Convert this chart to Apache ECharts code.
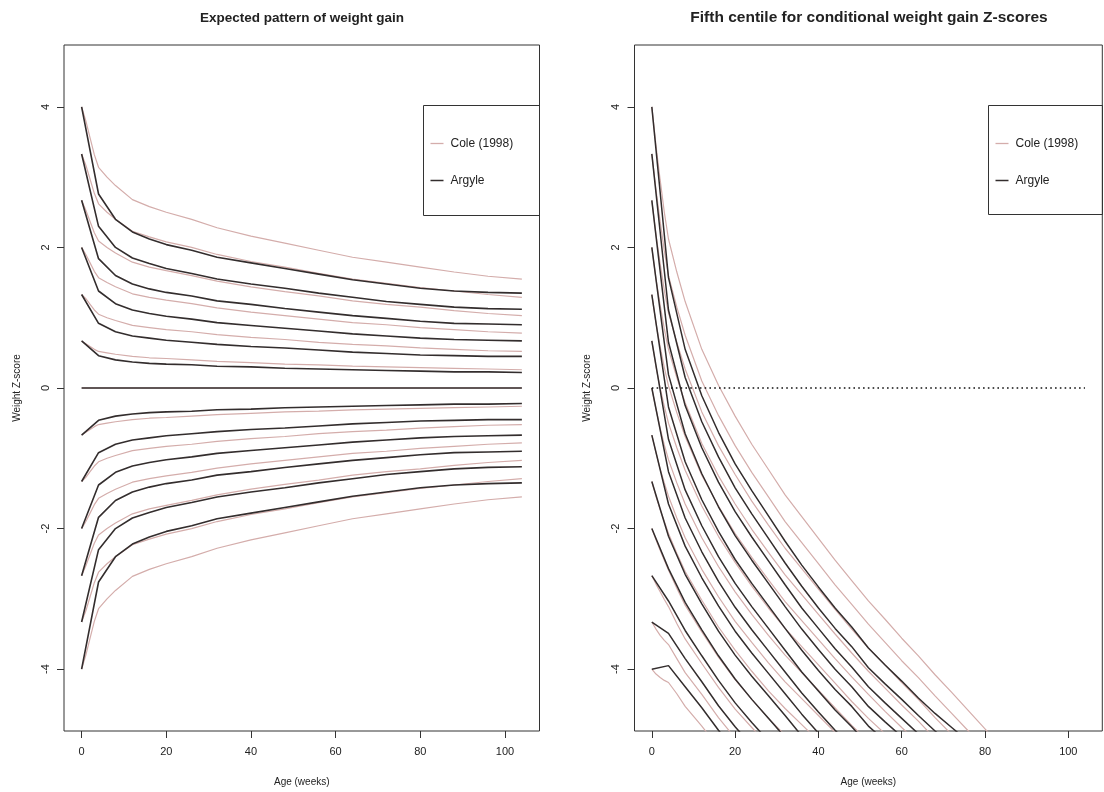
<!DOCTYPE html>
<html><head><meta charset="utf-8">
<script src="https://cdn.jsdelivr.net/npm/echarts@6/dist/echarts.min.js"></script>
<style>html,body{margin:0;padding:0;background:#fff}#c{width:1104px;height:792px}</style>
</head><body><div id="c"></div>
<script>
// ---------- data ----------
const titles = ['Expected pattern of weight gain', 'Fifth centile for conditional weight gain Z-scores'];
const xTicks = [0, 20, 40, 60, 80, 100];
const yTicks = [-4, -2, 0, 2, 4];
const legendNames = ['Cole (1998)', 'Argyle'];

// Left panel: expected pattern (Argyle, 4-weekly points)
const expArgyleWeeks = [0,4,8,12,16,20,26,32,40,48,56,64,72,80,88,96,104];
const expArgyle = [
  [4, 2.76, 2.4, 2.22, 2.12, 2.04, 1.96, 1.86, 1.78, 1.7, 1.62, 1.54, 1.48, 1.42, 1.38, 1.36, 1.35],
  [3.33, 2.3, 2, 1.85, 1.77, 1.7, 1.63, 1.55, 1.48, 1.42, 1.35, 1.29, 1.23, 1.19, 1.15, 1.13, 1.12],
  [2.67, 1.84, 1.6, 1.48, 1.41, 1.36, 1.31, 1.24, 1.19, 1.13, 1.08, 1.03, 0.99, 0.95, 0.92, 0.91, 0.9],
  [2, 1.38, 1.2, 1.11, 1.06, 1.02, 0.98, 0.93, 0.89, 0.85, 0.81, 0.77, 0.74, 0.71, 0.69, 0.68, 0.67],
  [1.33, 0.92, 0.8, 0.74, 0.71, 0.68, 0.65, 0.62, 0.59, 0.57, 0.54, 0.51, 0.49, 0.47, 0.46, 0.45, 0.45],
  [0.67, 0.46, 0.4, 0.37, 0.35, 0.34, 0.33, 0.31, 0.3, 0.28, 0.27, 0.26, 0.25, 0.24, 0.23, 0.23, 0.22],
  [0, 0, 0, 0, 0, 0, 0, 0, 0, 0, 0, 0, 0, 0, 0, 0, 0],
  [-0.67, -0.46, -0.4, -0.37, -0.35, -0.34, -0.33, -0.31, -0.3, -0.28, -0.27, -0.26, -0.25, -0.24, -0.23, -0.23, -0.22],
  [-1.33, -0.92, -0.8, -0.74, -0.71, -0.68, -0.65, -0.62, -0.59, -0.57, -0.54, -0.51, -0.49, -0.47, -0.46, -0.45, -0.45],
  [-2, -1.38, -1.2, -1.11, -1.06, -1.02, -0.98, -0.93, -0.89, -0.85, -0.81, -0.77, -0.74, -0.71, -0.69, -0.68, -0.67],
  [-2.67, -1.84, -1.6, -1.48, -1.41, -1.36, -1.31, -1.24, -1.19, -1.13, -1.08, -1.03, -0.99, -0.95, -0.92, -0.91, -0.9],
  [-3.33, -2.3, -2, -1.85, -1.77, -1.7, -1.63, -1.55, -1.48, -1.42, -1.35, -1.29, -1.23, -1.19, -1.15, -1.13, -1.12],
  [-4, -2.76, -2.4, -2.22, -2.12, -2.04, -1.96, -1.86, -1.78, -1.7, -1.62, -1.54, -1.48, -1.42, -1.38, -1.36, -1.35]
];

// Left panel: expected pattern (Cole 1998)
const expColeWeeks = [0,1,2,3,4,6,8,12,16,20,26,32,40,48,56,64,72,80,88,96,104];
const expCole = [
  [4, 3.8, 3.56, 3.32, 3.14, 3, 2.88, 2.68, 2.58, 2.5, 2.4, 2.28, 2.16, 2.06, 1.96, 1.86, 1.79, 1.72, 1.65, 1.59, 1.55],
  [3.33, 3.17, 2.97, 2.77, 2.62, 2.5, 2.4, 2.23, 2.15, 2.08, 2, 1.9, 1.8, 1.72, 1.63, 1.55, 1.49, 1.43, 1.38, 1.33, 1.29],
  [2.67, 2.53, 2.37, 2.21, 2.09, 2, 1.92, 1.79, 1.72, 1.67, 1.6, 1.52, 1.44, 1.37, 1.31, 1.24, 1.19, 1.15, 1.1, 1.06, 1.03],
  [2, 1.9, 1.78, 1.66, 1.57, 1.5, 1.44, 1.34, 1.29, 1.25, 1.2, 1.14, 1.08, 1.03, 0.98, 0.93, 0.9, 0.86, 0.83, 0.8, 0.78],
  [1.33, 1.27, 1.19, 1.11, 1.05, 1, 0.96, 0.89, 0.86, 0.83, 0.8, 0.76, 0.72, 0.69, 0.65, 0.62, 0.6, 0.57, 0.55, 0.53, 0.52],
  [0.67, 0.63, 0.59, 0.55, 0.52, 0.5, 0.48, 0.45, 0.43, 0.42, 0.4, 0.38, 0.36, 0.34, 0.33, 0.31, 0.3, 0.29, 0.28, 0.27, 0.26],
  [0, 0, 0, 0, 0, 0, 0, 0, 0, 0, 0, 0, 0, 0, 0, 0, 0, 0, 0, 0, 0],
  [-0.67, -0.63, -0.59, -0.55, -0.52, -0.5, -0.48, -0.45, -0.43, -0.42, -0.4, -0.38, -0.36, -0.34, -0.33, -0.31, -0.3, -0.29, -0.28, -0.27, -0.26],
  [-1.33, -1.27, -1.19, -1.11, -1.05, -1, -0.96, -0.89, -0.86, -0.83, -0.8, -0.76, -0.72, -0.69, -0.65, -0.62, -0.6, -0.57, -0.55, -0.53, -0.52],
  [-2, -1.9, -1.78, -1.66, -1.57, -1.5, -1.44, -1.34, -1.29, -1.25, -1.2, -1.14, -1.08, -1.03, -0.98, -0.93, -0.9, -0.86, -0.83, -0.8, -0.78],
  [-2.67, -2.53, -2.37, -2.21, -2.09, -2, -1.92, -1.79, -1.72, -1.67, -1.6, -1.52, -1.44, -1.37, -1.31, -1.24, -1.19, -1.15, -1.1, -1.06, -1.03],
  [-3.33, -3.17, -2.97, -2.77, -2.62, -2.5, -2.4, -2.23, -2.15, -2.08, -2, -1.9, -1.8, -1.72, -1.63, -1.55, -1.49, -1.43, -1.38, -1.33, -1.29],
  [-4, -3.8, -3.56, -3.32, -3.14, -3, -2.88, -2.68, -2.58, -2.5, -2.4, -2.28, -2.16, -2.06, -1.96, -1.86, -1.79, -1.72, -1.65, -1.59, -1.55]
];

// Right panel: fifth centile paths (Argyle)
const fifthArgyleWeeks = [0,4,8,12,16,20,24,28,32,36,40,44,48,52,56,60,64,68,72,76];
const fifthArgyle = [
  [4, 1.57, 0.55, -0.11, -0.63, -1.08, -1.46, -1.82, -2.18, -2.52, -2.83, -3.13, -3.4, -3.7, -3.94, -4.17, -4.41, -4.63, -4.83, -5.03],
  [3.33, 1.11, 0.15, -0.48, -0.98, -1.42, -1.79, -2.14, -2.49, -2.82, -3.13, -3.42, -3.68, -3.98, -4.21, -4.43, -4.66, -4.88, -5.08],
  [2.67, 0.65, -0.25, -0.85, -1.34, -1.76, -2.12, -2.46, -2.8, -3.13, -3.42, -3.71, -3.97, -4.25, -4.48, -4.7, -4.92, -5.13],
  [2, 0.19, -0.65, -1.22, -1.69, -2.1, -2.45, -2.78, -3.11, -3.43, -3.72, -4, -4.25, -4.53, -4.75, -4.96, -5.18],
  [1.33, -0.27, -1.05, -1.59, -2.04, -2.44, -2.78, -3.1, -3.42, -3.73, -4.02, -4.29, -4.53, -4.81, -5.02],
  [0.67, -0.73, -1.45, -1.96, -2.4, -2.78, -3.11, -3.42, -3.73, -4.04, -4.31, -4.58, -4.82, -5.08],
  [0, -1.19, -1.85, -2.33, -2.75, -3.12, -3.44, -3.74, -4.04, -4.34, -4.61, -4.87, -5.1],
  [-0.67, -1.65, -2.25, -2.7, -3.1, -3.46, -3.77, -4.06, -4.35, -4.64, -4.91],
  [-1.33, -2.11, -2.65, -3.07, -3.46, -3.8, -4.1, -4.38, -4.66, -4.95],
  [-2, -2.57, -3.05, -3.44, -3.81, -4.14, -4.43, -4.7, -4.97],
  [-2.67, -3.03, -3.45, -3.81, -4.16, -4.48, -4.76, -5.02],
  [-3.33, -3.49, -3.85, -4.18, -4.52, -4.82, -5.09],
  [-4, -3.95, -4.25, -4.55, -4.87, -5.16]
];

// Right panel: fifth centile paths (Cole 1998)
const fifthColeWeeks = [0,1,2,3,4,6,8,12,16,20,24,28,32,36,40,44,48,52,56,60,64,68,72,76,80,84];
const fifthCole = [
  [4, 3.45, 2.96, 2.5, 2.12, 1.65, 1.23, 0.55, 0.04, -0.4, -0.8, -1.16, -1.52, -1.83, -2.14, -2.45, -2.74, -3.03, -3.29, -3.56, -3.81, -4.08, -4.33, -4.59, -4.85, -5.11],
  [3.33, 2.82, 2.37, 1.95, 1.6, 1.15, 0.75, 0.1, -0.39, -0.82, -1.2, -1.55, -1.9, -2.2, -2.5, -2.8, -3.08, -3.36, -3.62, -3.88, -4.12, -4.38, -4.63, -4.88, -5.14],
  [2.67, 2.18, 1.77, 1.39, 1.07, 0.65, 0.27, -0.34, -0.82, -1.23, -1.61, -1.95, -2.28, -2.57, -2.86, -3.15, -3.43, -3.7, -3.94, -4.19, -4.43, -4.69, -4.93],
  [2, 1.55, 1.18, 0.84, 0.55, 0.15, -0.21, -0.79, -1.25, -1.65, -2.01, -2.34, -2.66, -2.94, -3.22, -3.5, -3.77, -4.03, -4.27, -4.51, -4.74, -4.99],
  [1.33, 0.92, 0.59, 0.29, 0.03, -0.35, -0.69, -1.24, -1.68, -2.07, -2.41, -2.73, -3.04, -3.31, -3.58, -3.85, -4.11, -4.36, -4.6, -4.83, -5.05],
  [0.67, 0.3, 0, -0.26, -0.5, -0.85, -1.17, -1.68, -2.11, -2.48, -2.82, -3.13, -3.42, -3.68, -3.94, -4.2, -4.46, -4.7, -4.92, -5.14],
  [0, -0.3, -0.57, -0.81, -1.02, -1.35, -1.65, -2.13, -2.54, -2.9, -3.22, -3.52, -3.8, -4.05, -4.3, -4.55, -4.8, -5.03],
  [-0.67, -0.92, -1.15, -1.35, -1.54, -1.85, -2.13, -2.58, -2.97, -3.32, -3.62, -3.91, -4.18, -4.42, -4.66, -4.9],
  [-1.33, -1.54, -1.73, -1.9, -2.07, -2.35, -2.61, -3.02, -3.4, -3.73, -4.03, -4.31, -4.56, -4.79, -5.02],
  [-2, -2.16, -2.31, -2.45, -2.59, -2.85, -3.09, -3.47, -3.83, -4.15, -4.43, -4.7, -4.94],
  [-2.67, -2.79, -2.9, -3.01, -3.11, -3.35, -3.57, -3.92, -4.26, -4.57, -4.83, -5.09],
  [-3.33, -3.43, -3.52, -3.59, -3.65, -3.85, -4.05, -4.36, -4.69, -4.98],
  [-4, -4.07, -4.12, -4.16, -4.19, -4.35, -4.53, -4.81, -5.12]
];

// Right panel: dotted reference at zero
const refWeeks = [0, 104];
const refValues = [0, 0];

// ---------- chart ----------
const FONT = '"Liberation Sans", Arial, Helvetica, sans-serif';
const PINK = '#d4adab';
const DARK = '#332d2d';
const INK = '#222';
const chart = echarts.init(document.getElementById('c'), null, {renderer: 'canvas'});

function pairs(weeks, vals) { return vals.map((v, i) => [weeks[i], v]); }
const series = [];
function addLines(list, weeks, idx, color, width, name, z) {
  list.forEach(vals => series.push({
    type: 'line', name: name, xAxisIndex: idx, yAxisIndex: idx,
    data: pairs(weeks, vals), symbol: 'none', showSymbol: false, clip: true,
    lineStyle: {color: color, width: width}, z: z, silent: true, animation: false
  }));
}
addLines(expCole, expColeWeeks, 0, PINK, 1.2, legendNames[0], 2);
addLines(expArgyle, expArgyleWeeks, 0, DARK, 1.6, legendNames[1], 3);
addLines(fifthCole, fifthColeWeeks, 1, PINK, 1.2, legendNames[0], 2);
addLines(fifthArgyle, fifthArgyleWeeks, 1, DARK, 1.5, legendNames[1], 3);
series.push({
  type: 'line', xAxisIndex: 1, yAxisIndex: 1, data: pairs(refWeeks, refValues),
  symbol: 'none', lineStyle: {color: '#111', width: 1.6, type: [1.6, 3.2]}, z: 4, silent: true, animation: false
});

function xAxis(gi) {
  return {
    type: 'value', gridIndex: gi, min: -4.16, max: 108.16,
    name: 'Age (weeks)', nameLocation: 'middle', nameGap: 46,
    nameTextStyle: {fontFamily: FONT, fontSize: 10, color: INK},
    axisLine: {show: false, onZero: false}, splitLine: {show: false},
    axisTick: {show: true, length: 7, customValues: xTicks, lineStyle: {color: '#333', width: 1}},
    axisLabel: {customValues: xTicks, fontFamily: FONT, fontSize: 11, color: INK, margin: 15}
  };
}
function yAxis(gi) {
  return {
    type: 'value', gridIndex: gi, min: -4.88, max: 4.88,
    name: 'Weight Z-score', nameLocation: 'middle', nameGap: 42, nameRotate: 90,
    nameTextStyle: {fontFamily: FONT, fontSize: 10, color: INK},
    axisLine: {show: false, onZero: false}, splitLine: {show: false},
    axisTick: {show: true, length: 7, customValues: yTicks, lineStyle: {color: '#333', width: 1}},
    axisLabel: {customValues: yTicks, rotate: 90, fontFamily: FONT, fontSize: 11, color: INK, margin: 13}
  };
}

function legendGraphics(x0, y0, w, h) {
  return [
    {type: 'rect', shape: {x: x0, y: y0, width: w, height: h}, style: {fill: 'none', stroke: '#333', lineWidth: 1}, z: 10},
    {type: 'line', shape: {x1: x0 + 7, y1: y0 + 38, x2: x0 + 20, y2: y0 + 38}, style: {stroke: PINK, lineWidth: 1.3}, z: 10},
    {type: 'text', x: x0 + 27, y: y0 + 38, style: {text: legendNames[0], fontFamily: FONT, fontSize: 12, fill: INK, align: 'left', verticalAlign: 'middle'}, z: 10},
    {type: 'line', shape: {x1: x0 + 7, y1: y0 + 75, x2: x0 + 20, y2: y0 + 75}, style: {stroke: DARK, lineWidth: 1.5}, z: 10},
    {type: 'text', x: x0 + 27, y: y0 + 75, style: {text: legendNames[1], fontFamily: FONT, fontSize: 12, fill: INK, align: 'left', verticalAlign: 'middle'}, z: 10}
  ];
}

const option = {
  animation: false,
  backgroundColor: '#fff',
  grid: [
    {left: 64, top: 45, width: 475.5, height: 686, show: true, borderColor: '#333', borderWidth: 1, backgroundColor: 'transparent', containLabel: false},
    {left: 634.5, top: 45, width: 467.8, height: 686, show: true, borderColor: '#333', borderWidth: 1, backgroundColor: 'transparent', containLabel: false}
  ],
  xAxis: [xAxis(0), xAxis(1)],
  yAxis: [yAxis(0), yAxis(1)],
  series: series,
  graphic: [
    {type: 'text', x: 302, y: 18, style: {text: titles[0], fontFamily: FONT, fontSize: 13.5, fontWeight: 'bold', fill: INK, align: 'center', verticalAlign: 'middle'}},
    {type: 'text', x: 869, y: 18, style: {text: titles[1], fontFamily: FONT, fontSize: 15.5, fontWeight: 'bold', fill: INK, align: 'center', verticalAlign: 'middle'}}
  ].concat(legendGraphics(423.5, 105.5, 116, 110)).concat(legendGraphics(988.5, 105.5, 114, 109))
};
chart.setOption(option);
</script>
</body></html>
